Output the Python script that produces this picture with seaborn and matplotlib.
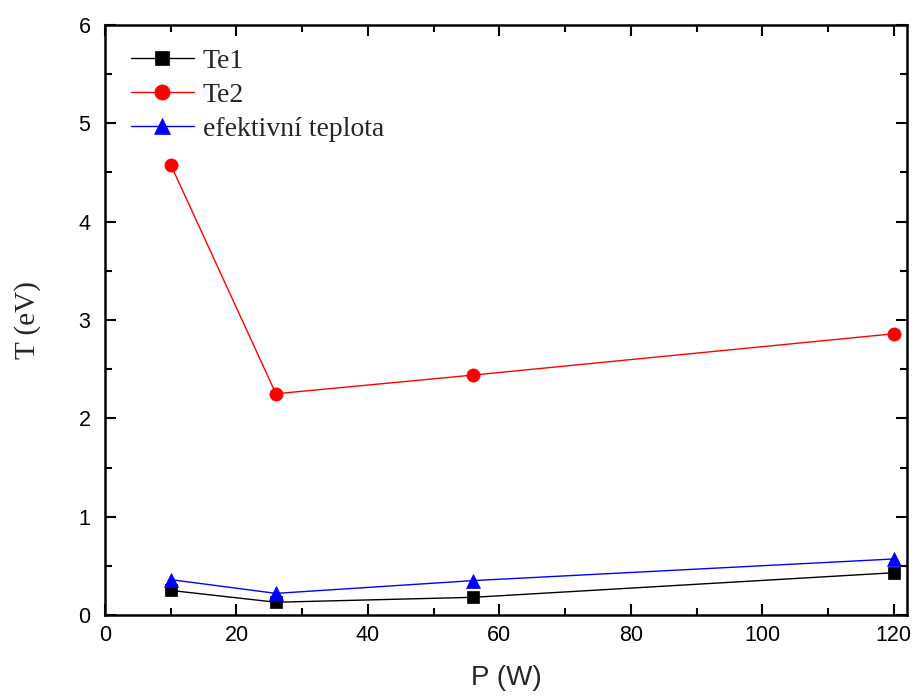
import matplotlib
matplotlib.use("Agg")
import matplotlib.pyplot as plt
import seaborn as sns
import pandas as pd
from matplotlib.ticker import MultipleLocator

power = [10, 26, 56, 120]
te1 = [0.25, 0.13, 0.18, 0.43]
te2 = [4.58, 2.25, 2.44, 2.86]
eff = [0.36, 0.22, 0.35, 0.57]
series_names = ["Te1", "Te2", "efektivní teplota"]

sns.set_theme(style="ticks")
plt.rcParams['font.family'] = ['Liberation Sans', 'DejaVu Sans']

fig = plt.figure(figsize=(9.13, 7.0), dpi=100)
ax = fig.add_axes([0.115, 0.1214, 0.8784, 0.8429])

styles = [("black", "s", 8.5), ("red", "o", 9.5), ("blue", "^", 10.5)]
for name, vals, (c, m, ms) in zip(series_names, [te1, te2, eff], styles):
    df = pd.DataFrame({"P": power, "T": vals})
    sns.lineplot(data=df, x="P", y="T", ax=ax, color=c, marker=m, markersize=ms,
                 markeredgecolor=c, markeredgewidth=0.5, linewidth=1.0, label=name)

ax.set_xlim(0, 122)
ax.set_ylim(0, 6)
ax.xaxis.set_major_locator(MultipleLocator(20))
ax.xaxis.set_minor_locator(MultipleLocator(10))
ax.yaxis.set_major_locator(MultipleLocator(1))
ax.yaxis.set_minor_locator(MultipleLocator(0.5))
ax.tick_params(which="both", direction="in", top=True, right=True, width=1.5, colors="black", labelsize=15.5)
ax.tick_params(which="major", length=8)
ax.tick_params(which="minor", length=5)
ax.tick_params(axis="y", which="major", pad=10.5)
ax.tick_params(axis="x", which="major", pad=7)
for s in ax.spines.values():
    s.set_linewidth(1.8)
    s.set_color("black")
ax.set_xlabel("P (W)", fontsize=20, labelpad=14)
ax.set_ylabel("T (eV)", fontsize=21, family="Liberation Serif", labelpad=27)

leg = ax.legend(loc="upper left", frameon=False, prop={"family": "Liberation Serif", "size": 20},
                handlelength=2.27, borderaxespad=0.0, borderpad=0.0, labelspacing=0.31,
                handletextpad=0.32, markerscale=1.15, bbox_to_anchor=(0.032, 0.960))

fig.savefig("out.png", dpi=100)
